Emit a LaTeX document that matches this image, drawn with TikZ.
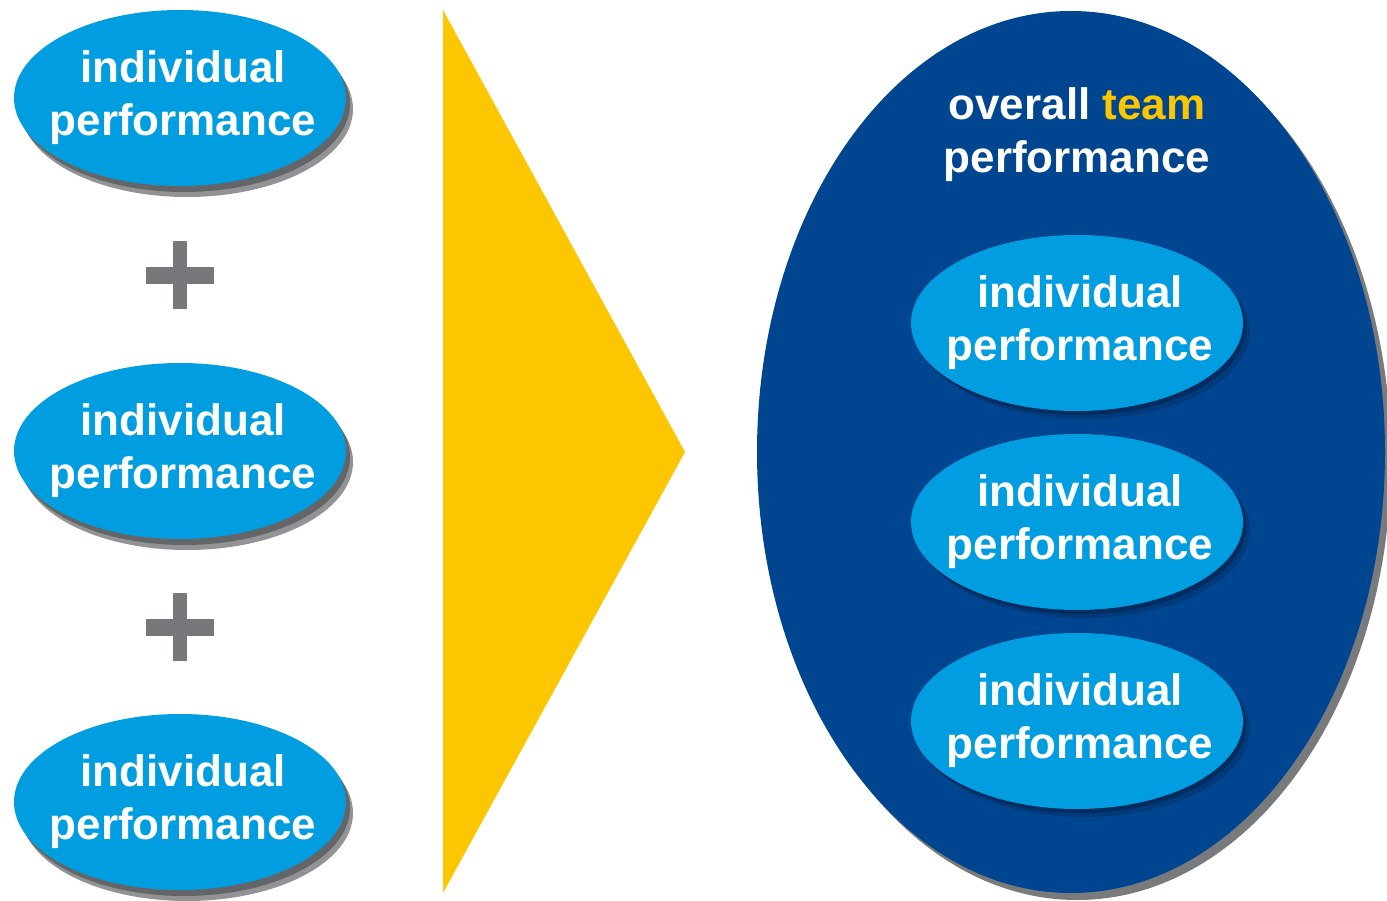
\documentclass[tikz,border=0pt]{standalone}
\usepackage{fontspec}
\setmainfont{Liberation Sans}
\usetikzlibrary{shapes.geometric,shadows}
\definecolor{lblue}{HTML}{009EE0}
\definecolor{dblue}{HTML}{00458F}
\definecolor{tyellow}{HTML}{FCC600}
\definecolor{plusgray}{HTML}{77787B}
\definecolor{shgray}{HTML}{58595B}
\definecolor{shnavy}{HTML}{00214A}
\begin{document}
\begin{tikzpicture}[x=1pt,y=-1pt,
  txt/.style={text=white, align=center, font=\bfseries\fontsize{44}{53}\selectfont},
  indiv/.style={ellipse, fill=lblue, minimum width=332pt, minimum height=176pt, inner sep=0pt,
                label={[txt, xshift=3pt]center:individual\\performance}},
  leftshadow/.style={drop shadow={shadow xshift=4pt, shadow yshift=-6pt, fill=shgray, opacity=0.8},
                     drop shadow={shadow xshift=7pt, shadow yshift=-11pt, fill=shgray, opacity=0.65}},
  innershadow/.style={drop shadow={shadow xshift=3pt, shadow yshift=-4pt, fill=shnavy, opacity=0.55},
                      drop shadow={shadow xshift=7pt, shadow yshift=-8pt, fill=shnavy, opacity=0.3}},
  plusbar/.style={fill=plusgray},
]
\useasboundingbox (0,0) rectangle (1387,901);

% left column
\node[indiv, leftshadow] (l1) at (180,98) {};
\node[indiv, leftshadow] (l2) at (180,451) {};
\node[indiv, leftshadow] (l3) at (180,802) {};

% plus signs
\fill[plusbar] (146,267) rectangle (214,284);
\fill[plusbar] (173,241) rectangle (187,309);
\fill[plusbar] (146,619) rectangle (214,636);
\fill[plusbar] (173,593) rectangle (187,661);

% yellow arrow
\fill[tyellow] (443,10) -- (685,452) -- (443,893) -- cycle;

% big ellipse
\node[ellipse, fill=dblue, minimum width=628pt, minimum height=882pt, inner sep=0pt,
      drop shadow={shadow xshift=6pt, shadow yshift=-7pt, fill=shgray, opacity=0.8}] (team) at (1071,452) {};
\node[txt] (title) at (1077,135) {overall \textcolor{tyellow}{team}\\performance};

\node[indiv, innershadow] (r1) at (1077,323) {};
\node[indiv, innershadow] (r2) at (1077,522) {};
\node[indiv, innershadow] (r3) at (1077,721) {};
\end{tikzpicture}
\end{document}
